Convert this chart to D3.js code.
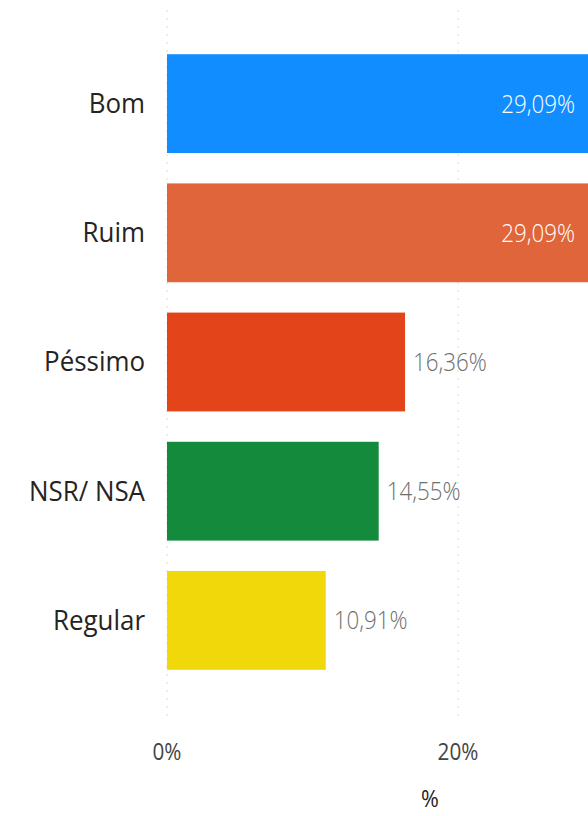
<!DOCTYPE html>
<html>
<head>
<meta charset="utf-8">
<script src="https://cdn.jsdelivr.net/npm/d3@7"></script>
<style>
  html, body { margin: 0; padding: 0; background: #fff; }
  svg { display: block; font-family: "Segoe UI", "Open Sans", "Noto Sans", sans-serif; }
</style>
</head>
<body>
<svg id="chart" width="588" height="816"></svg>
<script>
// Survey answers, sorted by share
const categories = ["Bom", "Ruim", "Péssimo", "NSR/ NSA", "Regular"];
const values = [29.09, 29.09, 16.36, 14.55, 10.91];
const colors = ["#118DFF", "#E0653A", "#E3441A", "#138A3C", "#F0D80A"];
const tickValues = [0, 20];
const axisTitle = "%";

const W = 588, H = 816;
const margin = { left: 167, top: 40, bottom: 132 };

const svg = d3.select("#chart");

const x = d3.scaleLinear().domain([0, 20]).range([margin.left, 458]);
const y = d3.scaleBand().domain(categories)
  .range([margin.top, H - margin.bottom])
  .paddingInner(0.235).paddingOuter(0.11);

// narrow text: position with translate, then squeeze horizontally
const place = (px, py, sx) => `translate(${px},${py}) scale(${sx},1)`;

// dashed vertical gridlines
svg.append("g").selectAll("line").data(tickValues).join("line")
  .attr("x1", d => x(d)).attr("x2", d => x(d))
  .attr("y1", 10).attr("y2", 722)
  .attr("stroke", "#dcdcdc").attr("stroke-width", 1)
  .attr("stroke-dasharray", "2,6");

// bars (right end is clipped by the view edge)
svg.append("g").selectAll("rect").data(categories).join("rect")
  .attr("x", x(0))
  .attr("y", d => y(d))
  .attr("width", (d, i) => x(values[i]) - x(0))
  .attr("height", y.bandwidth())
  .attr("fill", (d, i) => colors[i]);

// category labels
svg.append("g").selectAll("text").data(categories).join("text")
  .attr("transform", d => place(145, y(d) + y.bandwidth() / 2, 0.96))
  .attr("dy", "0.35em")
  .attr("text-anchor", "end")
  .attr("font-size", 27)
  .attr("fill", "#252423")
  .text(d => d);

// value labels: inside the bar when it runs past the view, otherwise after it
const fmt = v => v.toFixed(2).replace(".", ",") + "%";
svg.append("g").selectAll("text").data(categories).join("text")
  .each(function (d, i) {
    const end = x(values[i]);
    const inside = end > W - 60;
    d3.select(this)
      .attr("transform", place(inside ? 575 : end + 8, y(d) + y.bandwidth() / 2, 0.86))
      .attr("text-anchor", inside ? "end" : "start")
      .attr("fill", inside ? "#ffffff" : "#6f6f6f");
  })
  .attr("dy", "0.35em")
  .attr("font-size", 26)
  .attr("font-weight", 300)
  .text((d, i) => fmt(values[i]));

// x axis tick labels
svg.append("g").selectAll("text").data(tickValues).join("text")
  .attr("transform", d => place(x(d), 752, 0.9))
  .attr("dy", "0.35em")
  .attr("text-anchor", "middle")
  .attr("font-size", 23)
  .attr("fill", "#444444")
  .text(d => d + "%");

// axis title
svg.append("text")
  .attr("transform", place(430, 799, 0.9))
  .attr("dy", "0.35em")
  .attr("text-anchor", "middle")
  .attr("font-size", 24)
  .attr("fill", "#252423")
  .text(axisTitle);
</script>
</body>
</html>
